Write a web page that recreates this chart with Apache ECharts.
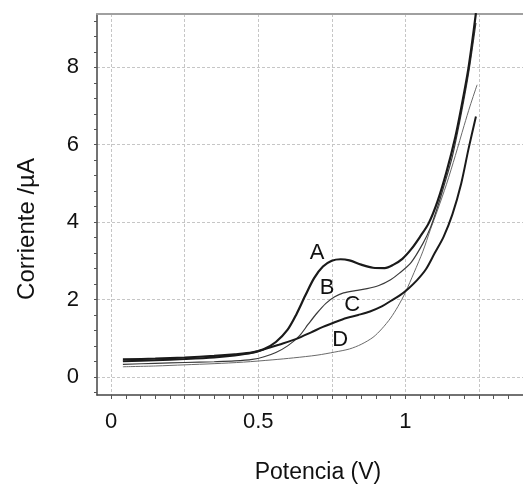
<!DOCTYPE html>
<html><head><meta charset="utf-8">
<script src="https://cdn.jsdelivr.net/npm/echarts@6/dist/echarts.min.js"></script>
<style>html,body{margin:0;padding:0;background:#fff}#c{width:523px;height:493px}</style>
</head><body><div id="c"></div>
<script>
// Tick / label values
const xLabelValues = [0, 0.5, 1];
const xGridValues = [0, 0.25, 0.5, 0.75, 1, 1.25];
const xTickValues = [0, 0.05, 0.1, 0.15, 0.2, 0.25, 0.3, 0.35, 0.4, 0.45, 0.5, 0.55, 0.6, 0.65, 0.7, 0.75, 0.8, 0.85, 0.9, 0.95, 1, 1.05, 1.1, 1.15, 1.2, 1.25, 1.3, 1.35, 1.4];
const yLabelValues = [0, 2, 4, 6, 8];
const yTickValues = [-0.4, 0, 0.4, 0.8, 1.2, 1.6, 2, 2.4, 2.8, 3.2, 3.6, 4, 4.4, 4.8, 5.2, 5.6, 6, 6.4, 6.8, 7.2, 7.6, 8, 8.4, 8.8, 9.2];

// Curves: [potential V, current µA]
const curveA = [[0.04,0.45],[0.15,0.47],[0.25,0.50],[0.35,0.54],[0.42,0.58],[0.48,0.63],[0.52,0.72],[0.56,0.90],[0.60,1.22],[0.63,1.62],[0.66,2.10],[0.69,2.55],[0.72,2.85],[0.75,3.00],[0.78,3.04],[0.81,3.01],[0.85,2.90],[0.89,2.82],[0.93,2.81],[0.96,2.90],[0.99,3.05],[1.02,3.30],[1.05,3.62],[1.08,3.98],[1.11,4.55],[1.14,5.30],[1.17,6.20],[1.19,6.95],[1.215,8.0],[1.24,9.4]];
const curveB = [[0.04,0.32],[0.15,0.35],[0.25,0.37],[0.35,0.39],[0.42,0.41],[0.48,0.45],[0.52,0.52],[0.56,0.63],[0.60,0.80],[0.64,1.06],[0.67,1.36],[0.70,1.65],[0.73,1.90],[0.76,2.07],[0.79,2.17],[0.83,2.23],[0.87,2.28],[0.91,2.36],[0.95,2.51],[0.98,2.68],[1.02,2.96],[1.06,3.45],[1.085,3.85],[1.11,4.40],[1.13,4.90],[1.16,5.70],[1.19,6.80],[1.215,7.85],[1.24,9.15]];
const curveC = [[0.04,0.40],[0.15,0.43],[0.25,0.46],[0.35,0.50],[0.42,0.55],[0.48,0.62],[0.52,0.71],[0.57,0.83],[0.63,0.98],[0.68,1.15],[0.72,1.29],[0.76,1.41],[0.80,1.52],[0.84,1.60],[0.88,1.69],[0.92,1.82],[0.95,1.96],[0.98,2.10],[1.01,2.28],[1.04,2.50],[1.07,2.78],[1.10,3.20],[1.13,3.62],[1.16,4.20],[1.19,5.0],[1.215,5.9],[1.24,6.73]];
const curveD = [[0.04,0.26],[0.15,0.28],[0.25,0.31],[0.35,0.34],[0.45,0.38],[0.55,0.44],[0.62,0.49],[0.70,0.56],[0.76,0.64],[0.81,0.72],[0.85,0.84],[0.89,1.02],[0.92,1.24],[0.95,1.52],[0.975,1.82],[1.0,2.18],[1.03,2.70],[1.06,3.25],[1.085,3.80],[1.11,4.32],[1.14,4.98],[1.17,5.72],[1.20,6.50],[1.22,7.0],[1.244,7.55]];
const labelNames = ['A', 'B', 'C', 'D'];
const labelX = [0.70, 0.734, 0.819, 0.779];
const labelY = [3.19, 2.29, 1.86, 0.96];

const FONT = '"Liberation Sans", Arial, Helvetica, sans-serif';
const chart = echarts.init(document.getElementById('c'), null, {renderer: 'canvas'});
const gridSplit = {show: true, lineStyle: {color: '#c6c6c6', width: 1, type: [3, 2]}};

chart.setOption({
  animation: false,
  backgroundColor: '#fff',
  grid: {left: 97, top: 14, right: 0, bottom: 98, containLabel: false},
  xAxis: [
    {
      type: 'value', min: -0.048, max: 1.40, position: 'bottom',
      name: 'Potencia (V)', nameLocation: 'middle', nameGap: 66,
      nameTextStyle: {fontFamily: FONT, fontSize: 23, color: '#111', padding: [0, 0, 0, 16]},
      axisLine: {show: true, onZero: false, lineStyle: {color: '#444', width: 1.5}},
      axisTick: {show: true, length: 4, customValues: xTickValues, lineStyle: {color: '#555', width: 1}},
      axisLabel: {show: true, customValues: xLabelValues, margin: 16, fontFamily: FONT, fontSize: 22, color: '#111'},
      splitLine: {show: false}
    },
    {
      type: 'value', min: -0.048, max: 1.40, position: 'top',
      axisLine: {show: true, onZero: false, lineStyle: {color: '#a0a0a0', width: 2}},
      axisTick: {show: false, customValues: xGridValues},
      axisLabel: {show: false},
      splitLine: gridSplit
    }
  ],
  yAxis: [
    {
      type: 'value', min: -0.47, max: 9.38, position: 'left',
      name: 'Corriente /µA', nameLocation: 'middle', nameGap: 58, nameRotate: 90,
      nameTextStyle: {fontFamily: FONT, fontSize: 24, color: '#111', padding: [0, 49, 0, 0]},
      axisLine: {show: true, onZero: false, lineStyle: {color: '#444', width: 1.5}},
      axisTick: {show: true, length: 3, customValues: yTickValues, lineStyle: {color: '#555', width: 1}},
      axisLabel: {show: true, customValues: yLabelValues, margin: 18, fontFamily: FONT, fontSize: 22, color: '#111'},
      splitLine: {show: false}
    },
    {
      type: 'value', min: -0.47, max: 9.38, position: 'right',
      axisLine: {show: false},
      axisTick: {show: false, customValues: yLabelValues},
      axisLabel: {show: false},
      splitLine: gridSplit
    }
  ],
  series: [
    {name: 'D', type: 'line', data: curveD, showSymbol: false, smooth: 0.3, lineStyle: {color: '#6a6a6a', width: 1}},
    {name: 'B', type: 'line', data: curveB, showSymbol: false, smooth: 0.3, lineStyle: {color: '#3a3a3a', width: 1.2}},
    {name: 'C', type: 'line', data: curveC, showSymbol: false, smooth: 0.3, lineStyle: {color: '#1a1a1a', width: 2}},
    {name: 'A', type: 'line', data: curveA, showSymbol: false, smooth: 0.3, lineStyle: {color: '#1a1a1a', width: 2.2}},
    {
      name: 'labels', type: 'scatter', symbol: 'circle', symbolSize: 2,
      data: labelNames.map((n, i) => ({name: n, value: [labelX[i], labelY[i]]})),
      itemStyle: {color: 'rgba(0,0,0,0)'},
      label: {show: true, position: [1, 1], align: 'center', verticalAlign: 'middle', formatter: '{b}',
              fontFamily: FONT, fontSize: 22, color: '#111', opacity: 1, textBorderWidth: 0},
      emphasis: {disabled: true},
      z: 5
    }
  ]
});
</script></body></html>
